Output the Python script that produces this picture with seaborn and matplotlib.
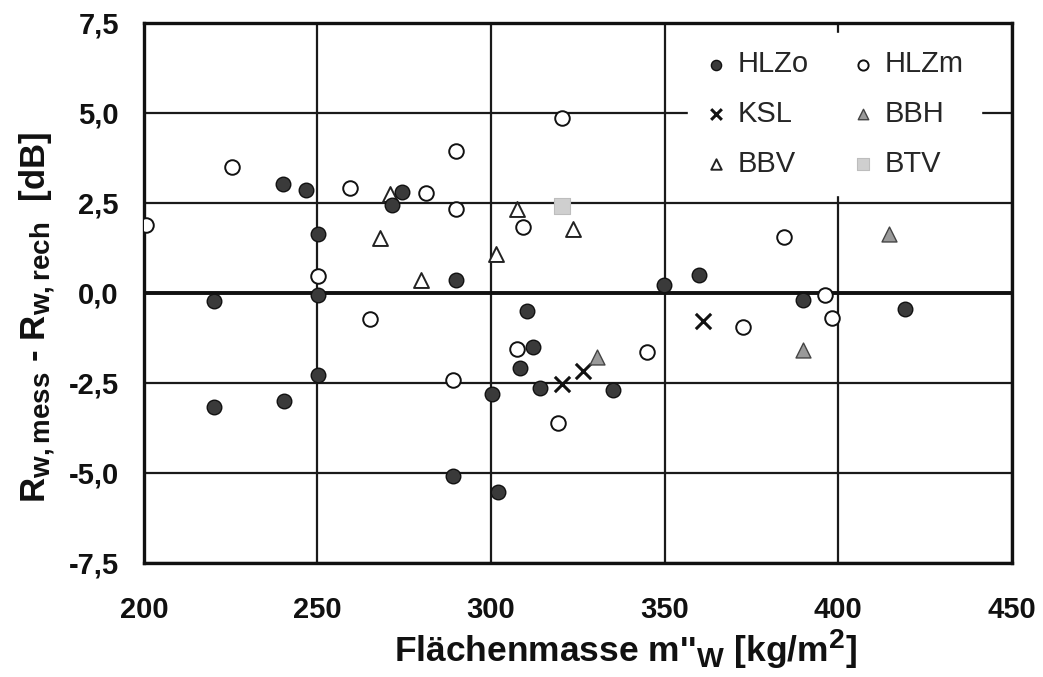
import matplotlib
matplotlib.use("Agg")
import matplotlib.pyplot as plt
import matplotlib._mathtext as mathtext_core
import seaborn as sns

sns.set_theme(style="white")
plt.rcParams["font.family"] = ["Liberation Sans", "DejaVu Sans"]
plt.rcParams["mathtext.fontset"] = "custom"
plt.rcParams["mathtext.rm"] = "Liberation Sans:bold"
plt.rcParams["mathtext.it"] = "Liberation Sans:bold"
plt.rcParams["mathtext.bf"] = "Liberation Sans:bold"
# slightly larger sub-/superscripts in the axis titles
mathtext_core.SHRINK_FACTOR = 0.8

# Measurement series: wall mass m''_W [kg/m²] and deviation R_w,mess - R_w,rech [dB]
hlzo_x = [240.1, 246.6, 274.3, 271.5, 250.1, 289.9, 220.2, 250.1, 250.1, 220.2, 240.3,
          349.8, 359.8, 310.3, 312.2, 308.3, 314.1, 300.4, 335.1, 289.0, 302.1, 390.0, 419.4]
hlzo_y = [3.01, 2.85, 2.80, 2.43, 1.62, 0.37, -0.23, -0.07, -2.27, -3.17, -2.99,
          0.21, 0.49, -0.51, -1.49, -2.08, -2.63, -2.80, -2.71, -5.09, -5.53, -0.19, -0.44]

hlzm_x = [225.5, 259.3, 200.6, 250.1, 265.0, 320.3, 289.9, 281.3, 289.9, 309.1, 307.6,
          289.0, 345.0, 319.4, 384.5, 396.3, 398.2, 372.5]
hlzm_y = [3.48, 2.92, 1.87, 0.46, -0.72, 4.84, 3.94, 2.78, 2.34, 1.83, -1.55,
          -2.43, -1.64, -3.62, 1.55, -0.07, -0.69, -0.95]

ksl_x = [361.0, 326.4, 320.5]
ksl_y = [-0.78, -2.18, -2.54]

bbh_x = [330.5, 414.7, 390.0]
bbh_y = [-1.78, 1.62, -1.60]

bbv_x = [271.0, 267.9, 279.8, 307.4, 323.5, 301.3]
bbv_y = [2.75, 1.53, 0.37, 2.34, 1.76, 1.07]

btv_x = [320.5]
btv_y = [2.41]

x_ticks = [200, 250, 300, 350, 400, 450]
y_ticks = [-7.5, -5.0, -2.5, 0.0, 2.5, 5.0, 7.5]
y_tick_labels = ["-7,5", "-5,0", "-2,5", "0,0", "2,5", "5,0", "7,5"]

fig = plt.figure(figsize=(10.43, 6.77), dpi=100)
ax = fig.add_axes([0.138, 0.1684, 0.832, 0.7981])

ax.set_xlim(200, 450)
ax.set_ylim(-7.5, 7.5)

# grid in dark grey, zero line a bit heavier
ax.set_xticks(x_ticks)
ax.set_yticks(y_ticks)
ax.set_yticklabels(y_tick_labels)
ax.grid(True, color="#1a1a1a", lw=1.6)
ax.set_axisbelow(True)
ax.axhline(0, color="#111111", lw=2.8, zorder=1.5)

size = 110
sns.scatterplot(x=bbv_x, y=bbv_y, marker="^", s=size * 1.05, facecolor="white",
                edgecolor="#222222", linewidth=1.4, ax=ax, label="BBV", zorder=3)
sns.scatterplot(x=hlzm_x, y=hlzm_y, marker="o", s=size, facecolor="white",
                edgecolor="#111111", linewidth=1.4, ax=ax, label="HLZm", zorder=3)
sns.scatterplot(x=hlzo_x, y=hlzo_y, marker="o", s=size, color="#3a3a3a",
                edgecolor="#111111", linewidth=1.0, ax=ax, label="HLZo", zorder=4)
sns.scatterplot(x=ksl_x, y=ksl_y, marker="x", s=size * 1.1, color="#111111",
                linewidth=2.2, ax=ax, label="KSL", zorder=4)
sns.scatterplot(x=bbh_x, y=bbh_y, marker="^", s=size * 1.05, color="#9a9a9a",
                edgecolor="#444444", linewidth=1.0, ax=ax, label="BBH", zorder=4)
sns.scatterplot(x=btv_x, y=btv_y, marker="s", s=size * 1.2, color="#cfcfcf",
                edgecolor="#bdbdbd", linewidth=0.8, ax=ax, label="BTV", zorder=4)

# legend reads row-wise: HLZo HLZm / KSL BBH / BBV BTV (matplotlib fills by column)
handles, labels = ax.get_legend_handles_labels()
order = ["HLZo", "KSL", "BBV", "HLZm", "BBH", "BTV"]
hmap = dict(zip(labels, handles))
leg = ax.legend([hmap[k] for k in order], order, ncol=2, loc="upper left",
                bbox_to_anchor=(0.627, 0.981), borderaxespad=0, frameon=True,
                fancybox=False, framealpha=1, facecolor="white", edgecolor="white",
                fontsize=21, markerscale=0.7, handlelength=0.7, handletextpad=0.4,
                columnspacing=1.5, labelspacing=0.74, borderpad=0.6)
leg.set_zorder(6)

for s in ax.spines.values():
    s.set_visible(True)
    s.set_color("#111111")
    s.set_linewidth(2.4)

ax.tick_params(axis="both", length=0, labelsize=21, colors="#111111")
ax.tick_params(axis="x", pad=24)
ax.tick_params(axis="y", pad=18)
for t in ax.get_xticklabels() + ax.get_yticklabels():
    t.set_fontweight("bold")

ax.set_xlabel("Flächenmasse m''$_{W}$ [kg/m$^{2}$]", fontsize=25.5, fontweight="bold",
              color="#111111")
ax.set_ylabel("R$_{w,mess}$ - R$_{w,rech}$  [dB]", fontsize=25, fontweight="bold",
              color="#111111")
ax.xaxis.set_label_coords(0.555, -0.12)
ax.yaxis.set_label_coords(-0.1, 0.455)

fig.savefig("out.png", dpi=100, facecolor="white")
